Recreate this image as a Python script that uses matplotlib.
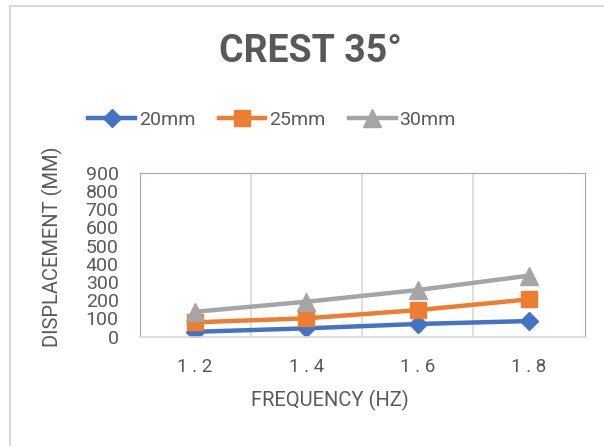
import matplotlib
matplotlib.use("Agg")
import matplotlib.pyplot as plt
from matplotlib.lines import Line2D

# values
freqs = ["1.2", "1.4", "1.6", "1.8"]
disp_20mm = [27, 46, 70, 86]
disp_25mm = [79, 101, 146, 205]
disp_30mm = [137, 192, 256, 335]
series_names = ["20mm", "25mm", "30mm"]
yticks = [0, 100, 200, 300, 400, 500, 600, 700, 800, 900]

plt.rcParams["font.family"] = ["Roboto", "DejaVu Sans"]
grey = "#595959"

fig = plt.figure(figsize=(6.04, 4.46), dpi=100)
ax = fig.add_axes([0.231, 0.245, 0.737, 0.368])

x = list(range(len(freqs)))
ax.plot(x, disp_20mm, color="#4472C4", lw=3.2, marker="D", ms=9, label=series_names[0])
ax.plot(x, disp_25mm, color="#ED7D31", lw=3.2, marker="s", ms=12, label=series_names[1])
ax.plot(x, disp_30mm, color="#A5A5A5", lw=3.2, marker="^", ms=13, label=series_names[2])

ax.set_xlim(-0.5, len(freqs) - 0.5)
ax.set_ylim(0, 900)
ax.set_yticks(yticks)
ax.set_yticklabels([str(v) for v in yticks], fontsize=14, color=grey)
ax.set_xticks(x)
# the reference spreads the tick label characters out
ax.set_xticklabels([" . ".join(f.split(".")) for f in freqs], fontsize=13.5, color=grey)
ax.tick_params(axis="y", length=0, pad=15)
ax.tick_params(axis="x", length=0, pad=15)

# vertical gridlines between categories
for b in [0.5, 1.5, 2.5]:
    ax.axvline(b, color="#d9d9d9", lw=1.2, zorder=0)
for s in ax.spines.values():
    s.set_color("#8faadc")
    s.set_linestyle((0, (1, 1)))
    s.set_linewidth(0.8)
ax.spines["bottom"].set_color("#d9d9d9")
ax.spines["bottom"].set_linestyle("-")
ax.spines["bottom"].set_linewidth(1.2)

fig.text(330 / 604, 1 - 400 / 446, "FREQUENCY (HZ)", fontsize=14.5, color=grey,
         ha="center", va="center")
fig.text(52 / 604, 1 - 247 / 446, "DISPLACEMENT (MM)", fontsize=14.5, color=grey,
         rotation=90, ha="center", va="center")
fig.text(310 / 604, 1 - 51 / 446, "CREST 35°", fontsize=27, color=grey,
         fontweight="bold", ha="center", va="center")

handles = [
    Line2D([], [], color="#4472C4", lw=3.2, marker="D", ms=9),
    Line2D([], [], color="#ED7D31", lw=3.2, marker="s", ms=12),
    Line2D([], [], color="#A5A5A5", lw=3.2, marker="^", ms=13),
]
fig.legend(handles, series_names, loc="center", bbox_to_anchor=(272 / 604, 1 - 120 / 446),
           ncol=3, frameon=False, fontsize=14, labelcolor=grey, handlelength=2.4,
           handletextpad=0.2, columnspacing=1.2)

# outer chart border
fig.add_artist(Line2D([10 / 604, 1], [1 - 6 / 446, 1 - 6 / 446], color="#d9d9d9", lw=1.5))
fig.add_artist(Line2D([10 / 604, 10 / 604], [0, 1 - 6 / 446], color="#d9d9d9", lw=1.5))

fig.savefig("out.png", dpi=100)
